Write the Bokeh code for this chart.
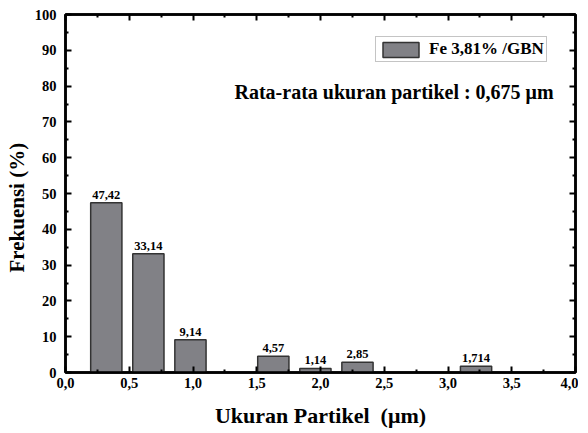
from bokeh.plotting import figure
from bokeh.models import Range1d, LinearAxis, FixedTicker, Label, Legend, LegendItem, ColumnDataSource, CustomJSTickFormatter, Title
from bokeh.core.properties import value
from bokeh.embed import file_html
from bokeh.resources import INLINE

centers = [0.32, 0.65, 0.98, 1.63, 1.96, 2.29, 3.22]
freqs = [47.42, 33.14, 9.14, 4.57, 1.14, 2.85, 1.714]
bar_labels = ["47,42", "33,14", "9,14", "4,57", "1,14", "2,85", "1,714"]
x_ticks = [0.0, 0.5, 1.0, 1.5, 2.0, 2.5, 3.0, 3.5, 4.0]
x_tick_labels = ["0,0", "0,5", "1,0", "1,5", "2,0", "2,5", "3,0", "3,5", "4,0"]
y_ticks = [0, 10, 20, 30, 40, 50, 60, 70, 80, 90, 100]
series_name = "Fe 3,81% /GBN"
note = "Rata-rata ukuran partikel : 0,675 \u03bcm"
x_title = "Ukuran Partikel\u00a0 (\u03bcm)"
y_title = "Frekuensi (%)"

FONT = "Liberation Serif"

p = figure(output_backend="svg", toolbar_location=None,
           x_range=Range1d(0, 4), y_range=Range1d(0, 100),
           frame_width=510, frame_height=358,
           min_border_left=59, min_border_right=3, min_border_top=14, min_border_bottom=52)
p.grid.visible = False
p.outline_line_color = "black"
p.outline_line_width = 2.5
p.background_fill_color = "white"

src = ColumnDataSource(dict(x=centers, top=freqs, lab=bar_labels))
bars = p.vbar(x="x", top="top", width=0.245, bottom=0, source=src,
              fill_color="#818186", line_color="#333333", line_width=1.5)
p.text(x="x", y="top", text="lab", source=src, text_align="center", text_baseline="bottom",
       y_offset=-4, text_font=value(FONT), text_font_style="bold", text_font_size="12.5px",
       text_color="black")

def style_axis(ax):
    ax.axis_line_width = 2.5
    ax.axis_line_color = "black"
    ax.major_tick_in = 6
    ax.major_tick_out = 0
    ax.minor_tick_in = 3
    ax.minor_tick_out = 0
    ax.major_tick_line_width = 2
    ax.minor_tick_line_width = 2
    ax.major_label_text_font = FONT
    ax.major_label_text_font_style = "bold"
    ax.major_label_text_font_size = "14.5px"
    ax.major_label_text_color = "black"
    ax.axis_label_text_font = FONT
    ax.axis_label_text_font_style = "bold"
    ax.axis_label_text_color = "black"

xover = {t: l for t, l in zip(x_ticks, x_tick_labels)}
xa = p.xaxis[0]
xa.ticker = FixedTicker(ticks=x_ticks, minor_ticks=[t + 0.25 for t in x_ticks[:-1]])
xa.major_label_overrides = xover
style_axis(xa)
xa.axis_label = x_title
xa.axis_label_text_font_size = "22px"
xa.major_label_standoff = 5
xa.axis_label_standoff = 12

ya = p.yaxis[0]
ya.ticker = FixedTicker(ticks=y_ticks, minor_ticks=[t + 5 for t in y_ticks[:-1]])
style_axis(ya)
ya.major_label_standoff = 9

ytitle = Title(text=y_title, align="left", offset=100, standoff=5,
               text_font=FONT, text_font_style="bold", text_font_size="21px", text_color="black")
p.add_layout(ytitle, "left")

empty = CustomJSTickFormatter(code="return ''")
top_ax = LinearAxis(ticker=FixedTicker(ticks=x_ticks, minor_ticks=[t + 0.25 for t in x_ticks[:-1]]),
                    formatter=empty)
style_axis(top_ax)
top_ax.major_label_standoff = 7
p.add_layout(top_ax, "above")
right_ax = LinearAxis(ticker=FixedTicker(ticks=y_ticks, minor_ticks=[t + 5 for t in y_ticks[:-1]]),
                      formatter=empty)
style_axis(right_ax)
right_ax.major_label_standoff = 3
p.add_layout(right_ax, "right")

legend = Legend(items=[LegendItem(label=series_name, renderers=[bars])],
                location=(310, 310), label_text_font=FONT, label_text_font_style="bold",
                label_text_font_size="17px", label_text_color="black",
                glyph_width=45, glyph_height=19, label_height=19, padding=2, margin=0, spacing=0,
                label_standoff=6, border_line_color="#8a8a8a", border_line_width=1,
                background_fill_alpha=1.0)
p.add_layout(legend)

p.add_layout(Label(x=169, y=281, x_units="screen", y_units="screen", text=note,
                   text_font=FONT, text_font_style="bold", text_font_size="20px",
                   text_color="black", text_baseline="middle"))

open("out.html", "w").write(file_html(p, INLINE))
